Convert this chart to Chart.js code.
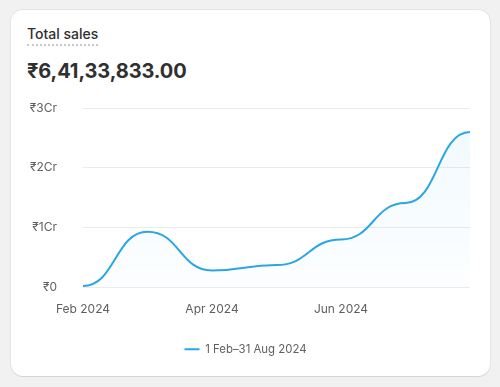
<!DOCTYPE html>
<html>
<head>
<meta charset="utf-8">
<script src="https://cdn.jsdelivr.net/npm/chart.js@4"></script>
<style>
  html, body { margin: 0; padding: 0; background: #f1f1f1; width: 500px; height: 387px; overflow: hidden; font-family: Inter, "Noto Sans", sans-serif; }
  .card { position: absolute; left: 11px; top: 10px; width: 479px; height: 366px; background: #fff; border-radius: 12px;
          box-shadow: 0 1px 0 0 rgba(26,26,26,0.08), 0 0 0 1px rgba(26,26,26,0.05); }
  .title { position: absolute; left: 16px; top: 15px; font-size: 14px; font-weight: 550; color: #303030;
           border-bottom: 2px dotted #c8c8c8; line-height: 18px; padding-bottom: 1px; }
  .value { position: absolute; left: 16px; top: 49px; font-size: 20px; font-weight: 700; color: #303030; line-height: 24px; letter-spacing: -0.1px; }
  .chartbox { position: absolute; left: 1px; top: 65px; width: 476px; height: 297px; }
</style>
</head>
<body>
<div class="card">
  <div class="title">Total sales</div>
  <div class="value">₹6,41,33,833.00</div>
  <div class="chartbox"><canvas id="c" width="476" height="297"></canvas></div>
</div>
<script>
const categories = ['Feb 2024', 'Mar 2024', 'Apr 2024', 'May 2024', 'Jun 2024', 'Jul 2024', 'Aug 2024'];
const salesValues = [200000, 9300000, 2800000, 3700000, 8000000, 14100000, 26000000];
const shownTickLabels = ['Feb 2024', 'Apr 2024', 'Jun 2024'];
const yTickValues = [0, 10000000, 20000000, 30000000];
const seriesLabel = '1 Feb–31 Aug 2024';

const flatBezier = {
  id: 'flatBezier',
  afterDatasetsUpdate(chart) {
    chart.getSortedVisibleDatasetMetas().forEach(meta => {
      const line = meta.dataset;
      if (!line) return;
      line.updateControlPoints(chart.chartArea, 'x');
      const pts = meta.data;
      const t = 0.5;
      for (let i = 0; i < pts.length; i++) {
        const p = pts[i];
        const prev = pts[i - 1] || p;
        const next = pts[i + 1] || p;
        p.cp1x = p.x - (p.x - prev.x) * t; p.cp1y = p.y;
        p.cp2x = p.x + (next.x - p.x) * t; p.cp2y = p.y;
      }
    });
  }
};

const tickColor = '#616161';
new Chart(document.getElementById('c'), {
  type: 'line',
  data: {
    labels: categories,
    datasets: [{
      label: seriesLabel,
      data: salesValues,
      borderColor: '#2ba6e4',
      borderWidth: 2,
      pointRadius: 0,
      tension: 0.4,
      fill: 'origin',
      backgroundColor: (ctx) => {
        const a = ctx.chart.chartArea;
        if (!a) return 'rgba(43,166,228,0.04)';
        const g = ctx.chart.ctx.createLinearGradient(0, a.top, 0, a.bottom);
        g.addColorStop(0, 'rgba(43,166,228,0.07)');
        g.addColorStop(1, 'rgba(43,166,228,0.01)');
        return g;
      }
    }]
  },
  options: {
    responsive: false,
    animation: false,
    layout: { padding: { left: 9, right: 18, top: 16, bottom: 7 } },
    plugins: {
      tooltip: { enabled: false },
      legend: {
        position: 'bottom',
        labels: {
          usePointStyle: true, pointStyle: 'line', pointStyleWidth: 15, boxWidth: 16, boxHeight: 12,
          color: tickColor, font: { family: 'Inter', size: 11.4 }, padding: 20
        }
      }
    },
    scales: {
      x: {
        grid: { display: false },
        border: { display: false },
        ticks: {
          autoSkip: false, maxRotation: 0, color: tickColor, font: { family: 'Inter', size: 12 }, padding: 7,
          callback: function(v, i) { const l = categories[i]; return shownTickLabels.includes(l) ? l : ''; }
        }
      },
      y: {
        min: 0, max: 30000000,
        afterFit(s) { s.width = 62; },
        afterBuildTicks(s) { s.ticks = yTickValues.map(v => ({ value: v })); },
        grid: { color: '#ebebeb', drawTicks: false },
        border: { display: false },
        ticks: {
          color: tickColor, font: { family: 'Inter', size: 12 }, padding: 26,
          callback: v => v === 0 ? '₹0' : '₹' + (v / 10000000) + 'Cr'
        }
      }
    }
  },
  plugins: [flatBezier]
});
</script>
</body>
</html>
